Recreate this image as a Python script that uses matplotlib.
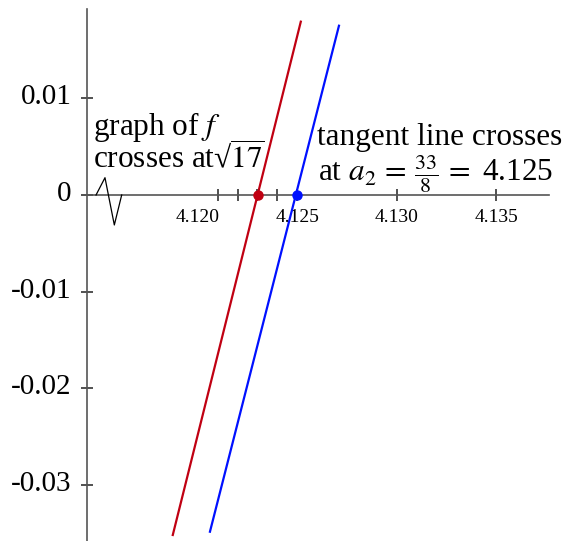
import matplotlib
matplotlib.use("Agg")
import matplotlib.pyplot as plt
from matplotlib.transforms import ScaledTranslation

plt.rcParams['font.family'] = ['Liberation Serif', 'DejaVu Serif']
plt.rcParams['mathtext.fontset'] = 'stix'

# curve of f and its tangent line (end points)
f_x = [4.11874, 4.12518]
f_y = [-0.03517, 0.01793]
tan_x = [4.12061, 4.12710]
tan_y = [-0.03483, 0.01751]

# crossing points on the x axis
root_x = 4.12304
a2_x = 4.125

# ticks
xtick_major = [4.120, 4.125, 4.130, 4.135]
xtick_labels = ['4.120', '4.125', '4.130', '4.135']
xtick_minor = [4.121, 4.122, 4.123, 4.124]
ytick_vals = [-0.03, -0.02, -0.01, 0, 0.01]
ytick_labels = ['-0.03', '-0.02', '-0.01', '0', '0.01']

# axis break zigzag
brk_x = [4.11488, 4.11533, 4.11580, 4.11617]
brk_y = [0.0, 0.00179, -0.00310, 0.0]

red = '#c00012'
blue = '#0010ff'
axcol = '#555555'

fig = plt.figure(figsize=(5.69, 5.41), dpi=100)
ax = fig.add_axes([0, 0, 1, 1])
ax.set_xlim(4.110049, 4.138671)
ax.set_ylim(-0.035792, 0.020172)
ax.patch.set_alpha(0)

# axes as spines
for s in ['top', 'right']:
    ax.spines[s].set_visible(False)
ax.spines['left'].set_position(('data', 4.11444))
ax.spines['bottom'].set_position(('data', 0))
ax.spines['left'].set_bounds(-0.04, 0.01924)
ax.spines['bottom'].set_bounds(4.11444, 4.13768)
for s in ['left', 'bottom']:
    ax.spines[s].set_color(axcol)
    ax.spines[s].set_linewidth(1.2)

ax.set_xticks(xtick_major)
ax.set_xticklabels(xtick_labels, fontsize=14)
ax.set_xticks(xtick_minor, minor=True)
ax.tick_params(axis='x', which='both', direction='inout', length=8,
               width=1.1, color='#222222', pad=6)
ax.xaxis.get_major_ticks()[0].tick1line.set_visible(False)

ax.set_yticks(ytick_vals)
ax.set_yticklabels(ytick_labels, fontsize=21)
ax.tick_params(axis='y', direction='inout', length=8, width=1.1,
               color='#222222', pad=7.5)
for lab in ax.get_yticklabels():
    lab.set_transform(lab.get_transform() +
                      ScaledTranslation(0, 4 / 100, fig.dpi_scale_trans))

# axis break
ax.plot(brk_x, brk_y, color='black', lw=0.9, zorder=3)

# lines
ax.plot(f_x, f_y, color=red, lw=1.6, zorder=4)
ax.plot(tan_x, tan_y, color=blue, lw=1.6, zorder=4)
ax.plot([root_x], [0], 'o', color=red, ms=6.5, zorder=5)
ax.plot([a2_x], [0], 'o', color=blue, ms=6.5, zorder=5)

# labels
px = lambda x: 4.110049 + x / 19880
py = lambda y: 0.020172 - y / 9667
ax.text(px(93), py(135), r'graph of $f$', fontsize=22.5, va='baseline')
ax.text(px(93), py(167), r'crosses at√$\overline{\mathrm{17}}$', fontsize=22.5,
        va='baseline')
ax.text(px(317), py(145), 'tangent line crosses', fontsize=22.5, va='baseline')
ax.text(px(318), py(181), r'at $a_2\,=\,\frac{33}{8}\,=$ 4.125', fontsize=22.5,
        va='baseline')

fig.savefig('out.png', dpi=100)
